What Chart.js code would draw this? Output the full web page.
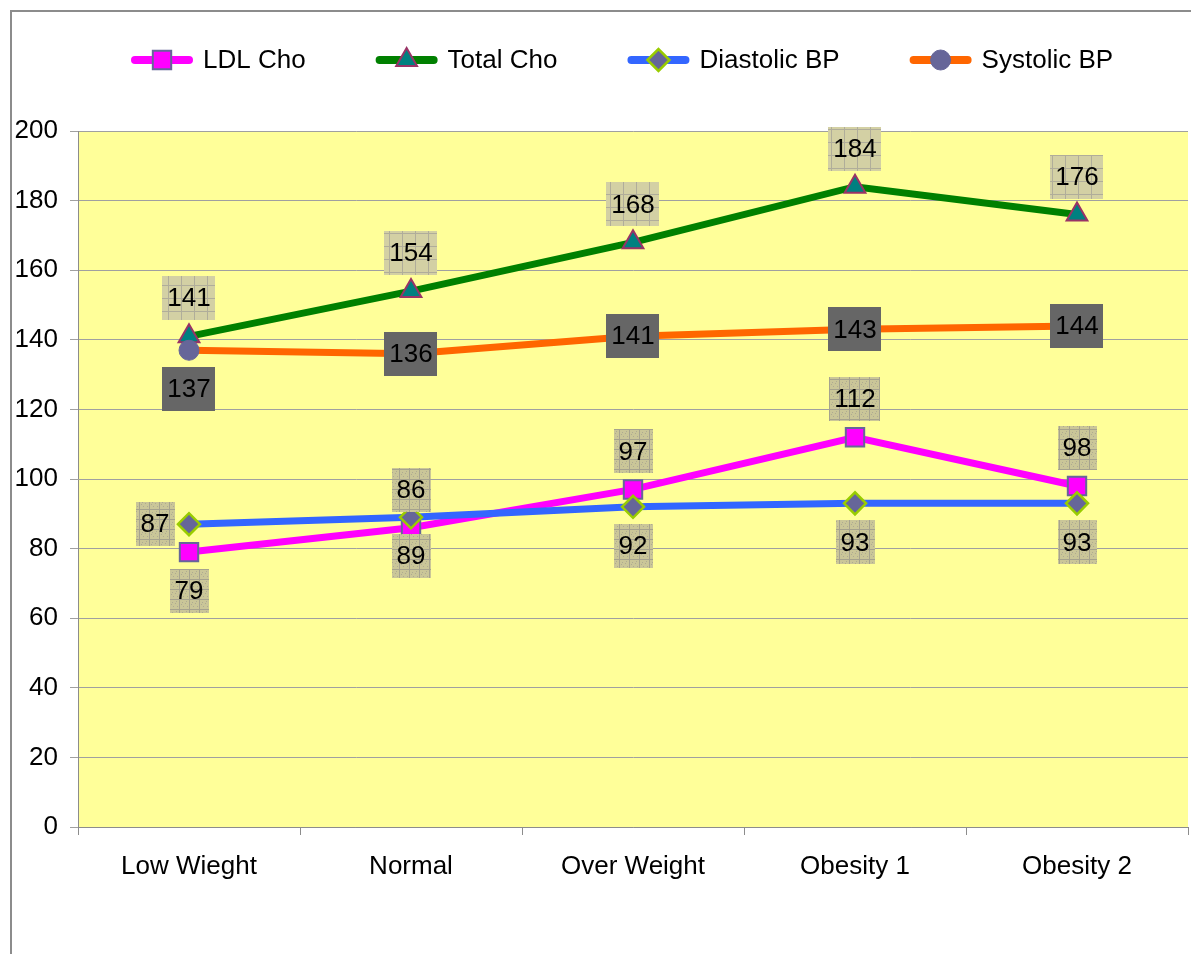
<!DOCTYPE html>
<html>
<head>
<meta charset="utf-8">
<script src="https://cdn.jsdelivr.net/npm/chart.js@4.4.0/dist/chart.umd.min.js"></script>
<style>
  html, body { margin: 0; padding: 0; background: #fff; }
  #wrap { width: 1191px; height: 954px; }
</style>
</head>
<body>
<div id="wrap"><canvas id="myChart"></canvas></div>
<script>
const categories = ['Low Wieght', 'Normal', 'Over Weight', 'Obesity 1', 'Obesity 2'];
const ldlCho = [79, 86, 97, 112, 98];
const totalCho = [141, 154, 168, 184, 176];
const diastolicBP = [87, 89, 92, 93, 93];
const systolicBP = [137, 136, 141, 143, 144];
const yMin = 0, yMax = 200, yStep = 20;

const FONT = "'Liberation Sans', Arial, sans-serif";

// little tiles for the label boxes
function makeTile(kind) {
    const c = document.createElement('canvas');
    const n = kind === 'grid' ? 13 : 10;
    c.width = n; c.height = n;
    const g = c.getContext('2d');
    g.fillStyle = kind === 'grid' ? '#d3d0a4' : '#cac698';
    g.fillRect(0, 0, n, n);
    g.fillStyle = kind === 'grid' ? '#b0ad9a' : '#a5a28e';
    g.fillRect(0, n - 1, n, 1);
    g.fillRect(n - 1, 0, 1, n);
    if (kind === 'dots') {
        g.fillStyle = '#aeaa92';
        [[2, 2], [5, 3], [3, 6], [7, 6], [1, 4], [6, 1]].forEach(p => g.fillRect(p[0], p[1], 1, 1));
    }
    return c;
}

const labelPlugin = {
    id: 'labelPlugin',
    beforeDraw(chart) {
        const {ctx, chartArea: a} = chart;
        ctx.save();
        ctx.fillStyle = '#ffff99';
        ctx.fillRect(a.left, a.top, a.right - a.left, a.bottom - a.top);
        ctx.strokeStyle = '#8c8c8c';
        ctx.lineWidth = 2;
        ctx.beginPath();
        ctx.moveTo(11, chart.height);
        ctx.lineTo(11, 11);
        ctx.lineTo(chart.width, 11);
        ctx.stroke();
        ctx.restore();
    },
    afterDatasetsDraw(chart) {
        const ctx = chart.ctx;
        const tiles = {grid: ctx.createPattern(makeTile('grid'), 'repeat'), dots: ctx.createPattern(makeTile('dots'), 'repeat'), dark: '#666666'};
        ctx.save();
        ctx.font = '26px ' + FONT;
        ctx.textAlign = 'center';
        ctx.textBaseline = 'middle';
        chart.data.datasets.forEach((ds, i) => {
            const meta = chart.getDatasetMeta(i);
            meta.data.forEach((pt, j) => {
                const txt = String(ds.data[j]);
                const w = ctx.measureText(txt).width + 10;
                const h = 44;
                let cx = pt.x, cy = pt.y;
                const pos = ds.labelPos[j];
                if (pos === 'above') cy -= 38;
                else if (pos === 'below') cy += 39;
                else if (pos === 'left') cx -= 34;
                ctx.fillStyle = tiles[ds.labelBg];
                ctx.fillRect(Math.round(cx - w / 2), Math.round(cy - h / 2), Math.round(w), h);
                ctx.fillStyle = '#000';
                ctx.fillText(txt, cx, cy + 1);
            });
        });
        ctx.restore();
    },
    afterDraw(chart) {
        // legend: line sample with marker, then text
        const ctx = chart.ctx;
        const a = chart.chartArea;
        ctx.save();
        ctx.font = '26px ' + FONT;
        ctx.textBaseline = 'middle';
        let x = a.left + 53;
        const y = 60;
        chart.data.datasets.forEach(ds => {
            ctx.strokeStyle = ds.borderColor;
            ctx.lineWidth = 8;
            ctx.lineCap = 'round';
            ctx.beginPath();
            ctx.moveTo(x + 4, y);
            ctx.lineTo(x + 58, y);
            ctx.stroke();
            ctx.fillStyle = ds.pointBackgroundColor;
            ctx.strokeStyle = ds.pointBorderColor;
            ctx.lineWidth = ds.pointBorderWidth;
            Chart.helpers.drawPoint(ctx, {pointStyle: ds.pointStyle, radius: ds.pointRadius, borderWidth: ds.pointBorderWidth, rotation: 0}, x + 31, y);
            ctx.fillStyle = '#000';
            ctx.fillText(ds.label, x + 72, y + 1);
            x += 72 + ctx.measureText(ds.label).width + 70;
        });
        ctx.restore();
    }
};

const data = {
    labels: categories,
    datasets: [
        {
            label: 'LDL Cho',
            data: ldlCho,
            borderColor: '#ff00ff',
            backgroundColor: '#ff00ff',
            borderWidth: 7,
            pointStyle: 'rect',
            pointRadius: 13,
            pointBackgroundColor: '#ff00ff',
            pointBorderColor: '#666699',
            pointBorderWidth: 2,
            order: 4,
            labelPos: ['below', 'above', 'above', 'above', 'above'],
            labelBg: 'dots'
        },
        {
            label: 'Total Cho',
            data: totalCho,
            borderColor: '#008000',
            backgroundColor: '#008000',
            borderWidth: 7,
            pointStyle: 'triangle',
            pointRadius: 12,
            pointBackgroundColor: '#008080',
            pointBorderColor: '#993366',
            pointBorderWidth: 2,
            order: 3,
            labelPos: ['above', 'above', 'above', 'above', 'above'],
            labelBg: 'grid'
        },
        {
            label: 'Diastolic BP',
            data: diastolicBP,
            borderColor: '#3366ff',
            backgroundColor: '#3366ff',
            borderWidth: 7,
            pointStyle: 'rectRot',
            pointRadius: 11,
            pointBackgroundColor: '#666699',
            pointBorderColor: '#99cc00',
            pointBorderWidth: 2.5,
            order: 2,
            labelPos: ['left', 'below', 'below', 'below', 'below'],
            labelBg: 'dots'
        },
        {
            label: 'Systolic BP',
            data: systolicBP,
            borderColor: '#ff6600',
            backgroundColor: '#ff6600',
            borderWidth: 7,
            pointStyle: 'circle',
            pointRadius: 10,
            pointBackgroundColor: '#666699',
            pointBorderColor: '#666699',
            pointBorderWidth: 1,
            order: 1,
            labelPos: ['below', 'center', 'center', 'center', 'center'],
            labelBg: 'dark'
        }
    ]
};

const config = {
    type: 'line',
    data: data,
    options: {
        responsive: true,
        maintainAspectRatio: false,
        animation: false,
        layout: { autoPadding: false, padding: { top: 131, right: 3, left: 0, bottom: 0 } },
        plugins: {
            legend: { display: false },
            tooltip: { enabled: false }
        },
        scales: {
            x: {
                offset: true,
                grid: { display: true, drawOnChartArea: false, offset: true, tickLength: 8, color: '#8c8c8c' },
                border: { color: '#8c8c8c' },
                ticks: { color: '#000', font: { size: 26, family: FONT }, padding: 16, maxRotation: 0 },
                afterFit(s) { s.height = 127; }
            },
            y: {
                min: yMin,
                max: yMax,
                grid: { color: '#a0a0a0', tickLength: 8 },
                border: { color: '#8c8c8c' },
                ticks: { stepSize: yStep, color: '#000', font: { size: 26, family: FONT }, padding: 12 },
                afterFit(s) { s.width = 78; }
            }
        }
    },
    plugins: [labelPlugin]
};

var myChart = new Chart(document.getElementById('myChart'), config);
</script>
</body>
</html>
